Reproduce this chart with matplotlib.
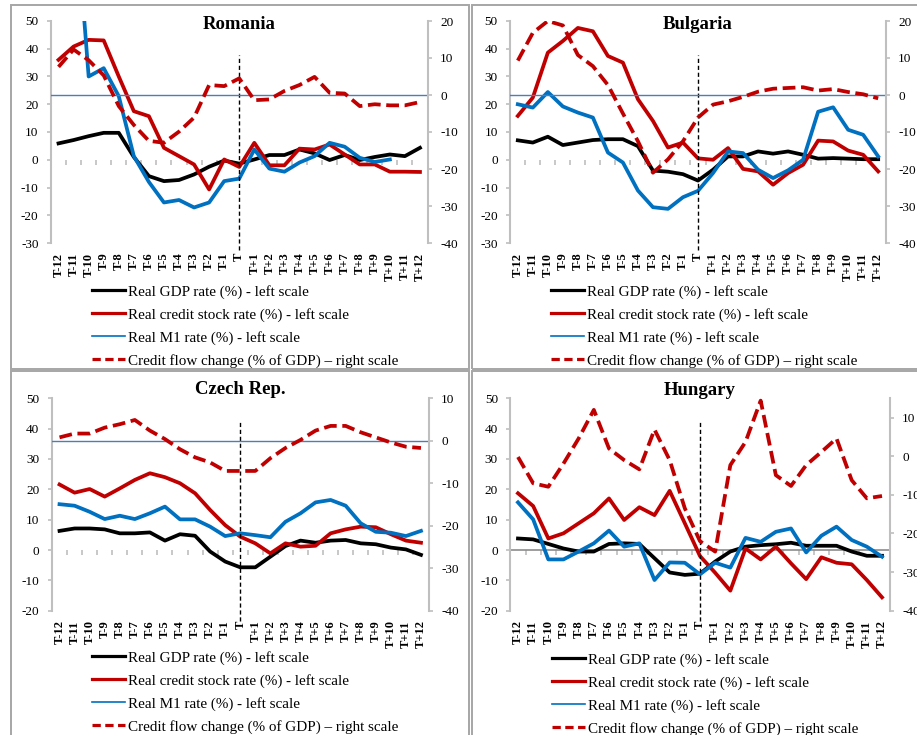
import numpy as np
import matplotlib
matplotlib.use('Agg')
import matplotlib.pyplot as plt
from matplotlib.lines import Line2D
from matplotlib.patches import Rectangle

W, H = 917, 735

plt.rcParams['font.family'] = ['Liberation Serif', 'DejaVu Serif']
plt.rcParams['axes.unicode_minus'] = False

CATEGORIES = ['T-12', 'T-11', 'T-10', 'T-9', 'T-8', 'T-7', 'T-6', 'T-5', 'T-4',
              'T-3', 'T-2', 'T-1', 'T', 'T+1', 'T+2', 'T+3', 'T+4', 'T+5',
              'T+6', 'T+7', 'T+8', 'T+9', 'T+10', 'T+11', 'T+12']

LABELS = ['Real GDP rate (%) - left scale',
          'Real credit stock rate (%) - left scale',
          'Real M1 rate (%) - left scale',
          'Credit flow change (% of GDP) \u2013 right scale']

nan = np.nan

# Romania
gdp_ro = [5.9, 7.1, 8.5, 9.7, 9.7, 1.0, -5.9, -7.7, -7.3, -5.3, -2.5, -0.3,
          -1.4, 0.1, 1.7, 1.7, 3.7, 2.3, -0.1, 1.7, -0.1, 1.0, 1.9, 1.3, 4.3]
credit_ro = [36.0, 40.8, 43.2, 43.0, 30.0, 17.5, 15.7, 4.3, 1.3, -1.7, -10.7, 0.1,
             -2.6, 6.1, -2.0, -2.0, 4.0, 3.7, 5.5, 1.9, -1.7, -1.7, -4.3, -4.3, -4.4]
m1_ro = [115.0, 100.0, 30.0, 33.0, 22.9, 1.3, -8.0, -15.4, -14.5, -17.2, -15.4, -7.7,
         -6.8, 3.7, -3.2, -4.3, -1.0, 1.3, 6.1, 4.7, 0.7, -0.8, 0.1, nan, nan]
flow_ro = [7.6, 12.3, 9.4, 5.3, -3.0, -8.1, -12.4, -12.9, -9.9, -6.1, 2.7, 2.4,
           4.5, -1.4, -1.2, 1.1, 2.7, 4.9, 0.6, 0.4, -3.0, -2.5, -2.8, -2.8, -1.9]

# Bulgaria
gdp_bg = [7.0, 6.2, 8.3, 5.3, 6.2, 7.1, 7.4, 7.4, 4.9, -3.9, -4.3, -5.2,
          -7.5, -3.6, 1.2, 1.2, 3.0, 2.2, 3.0, 1.8, 0.4, 0.6, 0.4, 0.2, 0.2]
credit_bg = [15.8, 22.4, 38.6, 42.8, 47.5, 46.3, 37.4, 35.0, 21.8, 14.0, 4.4, 6.2,
             0.5, 0.0, 4.2, -3.3, -4.2, -9.0, -4.8, -1.8, 6.9, 6.6, 3.3, 1.8, -4.2]
m1_bg = [20.0, 18.8, 24.4, 19.2, 17.0, 15.2, 2.6, -1.0, -11.1, -17.1, -17.7, -13.5,
         -11.2, -4.8, 3.0, 2.4, -3.6, -6.6, -3.8, 0.0, 17.3, 18.9, 10.8, 9.0, 1.2]
flow_bg = [9.3, 16.8, 20.0, 18.8, 10.8, 7.8, 2.7, -5.0, -12.5, -21.0, -17.4, -12.5,
           -6.1, -2.6, -1.7, -0.5, 0.9, 1.7, 1.9, 2.1, 1.2, 1.6, 0.8, 0.2, -0.9]

# Czech Rep.
gdp_cz = [6.3, 7.1, 7.1, 6.8, 5.5, 5.5, 5.8, 3.1, 5.2, 4.7, -0.5, -3.8,
          -5.7, -5.7, -2.2, 1.3, 3.1, 2.4, 3.1, 3.3, 2.2, 1.9, 0.8, 0.2, -1.6]
credit_cz = [21.6, 18.9, 20.1, 17.6, 20.3, 23.1, 25.3, 24.0, 22.0, 18.7, 13.2, 8.2,
             4.4, 2.2, -1.1, 2.2, 1.1, 1.4, 5.5, 6.8, 7.7, 7.5, 5.2, 3.1, 2.4]
m1_cz = [15.1, 14.6, 12.6, 10.2, 11.3, 10.2, 12.1, 14.3, 10.1, 10.1, 7.7, 4.6,
         5.5, 4.9, 4.2, 9.3, 12.1, 15.7, 16.5, 14.6, 8.8, 6.0, 5.7, 4.6, 6.3]
flow_cz = [0.8, 1.7, 1.7, 3.1, 3.9, 4.9, 2.4, 0.4, -2.0, -3.9, -5.1, -7.1,
           -7.1, -7.1, -4.1, -1.7, 0.2, 2.4, 3.5, 3.5, 2.0, 0.8, -0.4, -1.4, -1.7]

# Hungary
gdp_hu = [3.8, 3.5, 2.0, 0.5, -0.5, -0.5, 2.0, 2.2, 2.0, -2.7, -7.4, -8.2,
          -7.8, -3.8, -0.5, 1.1, 1.6, 1.9, 2.4, 1.4, 1.4, 1.4, -0.5, -1.9, -1.9]
credit_hu = [18.7, 14.5, 3.8, 5.5, 8.8, 12.1, 17.0, 9.9, 14.1, 11.5, 19.5, 8.8,
             -2.0, -7.5, -13.4, 0.5, -3.1, 1.1, -4.4, -9.6, -2.4, -4.2, -4.7, -9.9, -15.6]
m1_hu = [15.7, 10.1, -3.1, -3.1, -0.5, 2.2, 6.4, 1.1, 2.2, -9.9, -4.1, -4.2,
         -8.0, -4.2, -5.8, 4.0, 2.7, 6.0, 7.1, -0.8, 4.7, 7.7, 3.3, 1.1, -2.2]
flow_hu = [-0.2, -7.0, -7.9, -1.9, 4.6, 12.0, 2.0, -1.0, -3.4, 6.9, -1.0, -13.5,
           -22.0, -24.7, -2.3, 3.7, 14.4, -4.9, -7.7, -2.3, 1.1, 4.6, -6.2, -10.9, -10.3]

BLACK = '#000000'
RED = '#C00000'
BLUE = '#0070C0'
REF_BLUE = '#4A7EBB'
GRAY = '#BFBFBF'
DASH = (0, (3.4, 1.5))


def px_rect(x0, y0, x1, y1):
    return [x0 / W, 1 - y1 / H, (x1 - x0) / W, (y1 - y0) / H]


def draw_panel(fig, title, gdp, credit, m1, flow, rect, left_lim, right_lim,
               right_top_tick, ref, vline, title_y, legend_xy):
    ax = fig.add_axes(px_rect(*rect))
    ax2 = ax.twinx()
    x = np.arange(len(CATEGORIES))

    # reference horizontal line at zero of the right scale
    if ref == 'right':
        ax2.axhline(0, color=REF_BLUE, lw=1.0, zorder=1)

    ax.plot(x, gdp, color=BLACK, lw=2.7, solid_joinstyle='round')
    ax.plot(x, credit, color=RED, lw=2.7, solid_joinstyle='round')
    ax.plot(x, m1, color=BLUE, lw=2.7, solid_joinstyle='round')
    ax2.plot(x, flow, color=RED, lw=2.7, ls=DASH, dash_capstyle='butt')

    ax.axvline(12, ymin=vline[0], ymax=vline[1], color='black', lw=1.0,
               ls=(0, (3, 2)), clip_on=False, zorder=5)

    ax.set_xlim(-0.5, len(CATEGORIES) - 0.5)
    ax.set_ylim(*left_lim)
    ax.set_yticks(np.arange(left_lim[0], left_lim[1] + 1, 10))
    ax2.set_ylim(*right_lim)
    ax2.set_yticks(np.arange(right_lim[0], right_top_tick + 1, 10))

    ax.set_xticks(x, CATEGORIES, rotation=90, fontsize=9, fontweight='bold')
    ax.tick_params(axis='x', length=0, pad=7)
    ax.tick_params(axis='y', direction='out', length=3, color=GRAY, width=1.2,
                   labelsize=9.5, pad=6)
    ax2.tick_params(axis='y', direction='out', length=3, color=GRAY, width=1.2,
                    labelsize=9.5, pad=6)

    for a in (ax, ax2):
        for side in ('top', 'bottom'):
            a.spines[side].set_visible(False)
    ax.spines['right'].set_visible(False)
    ax2.spines['left'].set_visible(False)
    ax.spines['left'].set_color(GRAY)
    ax.spines['left'].set_linewidth(1.5)
    ax2.spines['right'].set_color(GRAY)
    ax2.spines['right'].set_linewidth(1.5)

    # category axis crossing at zero, tick marks between categories
    sec = ax.secondary_xaxis(0, transform=ax.transData)
    sec.set_xticks(np.arange(0.5, len(CATEGORIES) - 1, 1))
    sec.tick_params(axis='x', direction='out', length=3.5, color=GRAY, width=1.2,
                    labelbottom=False, labeltop=False)
    for s in sec.spines.values():
        s.set_visible(False)
    if ref == 'left':
        sec.spines['bottom'].set_visible(True)
        sec.spines['bottom'].set_color('#8C8C8C')
        sec.spines['bottom'].set_linewidth(1.2)

    ax.text(0.5, title_y, title, transform=ax.transAxes, ha='center',
            va='baseline', fontsize=13.5, fontweight='bold')

    handles = [
        Line2D([], [], color=BLACK, lw=2.3),
        Line2D([], [], color=RED, lw=2.3),
        Line2D([], [], color=BLUE, lw=1.2),
        Line2D([], [], color=RED, lw=2.3, ls=(0, (2.6, 1.4))),
    ]
    fig.legend(handles, LABELS, loc='upper left',
               bbox_to_anchor=(legend_xy[0] / W, 1 - legend_xy[1] / H),
               frameon=False, borderpad=0, borderaxespad=0, fontsize=10.9,
               handlelength=2.2, handletextpad=0.2, labelspacing=0.59)


fig = plt.figure(figsize=(W / 100, H / 100), dpi=100)

# panel frames
for x0, y0, x1, y1 in [(11, 5, 469, 369), (472, 5, 930, 369),
                       (11, 371, 469, 745), (472, 371, 930, 745)]:
    fig.add_artist(Rectangle((x0 / W, 1 - y1 / H), (x1 - x0) / W, (y1 - y0) / H,
                             transform=fig.transFigure, fill=False,
                             edgecolor='#A6A6A6', lw=1.4))

draw_panel(fig, 'Romania', gdp_ro, credit_ro, m1_ro, flow_ro,
           (51, 21, 427.5, 243), (-30, 50), (-40, 20), 20, 'right',
           (-0.03, 0.847), 0.964, (92, 285))
draw_panel(fig, 'Bulgaria', gdp_bg, credit_bg, m1_bg, flow_bg,
           (510.3, 21, 885.7, 243), (-30, 50), (-40, 20), 20, 'right',
           (-0.03, 0.847), 0.964, (551, 285))
draw_panel(fig, 'Czech Rep.', gdp_cz, credit_cz, m1_cz, flow_cz,
           (52, 398.3, 428.5, 610.7), (-20, 50), (-40, 10), 10, 'right',
           (-0.05, 0.894), 1.02, (92, 651))
draw_panel(fig, 'Hungary', gdp_hu, credit_hu, m1_hu, flow_hu,
           (510.4, 398.3, 889.6, 610.7), (-20, 50), (-40, 15), 10, 'left',
           (-0.05, 0.894), 1.015, (552, 653))

fig.savefig('out.png', dpi=100)
